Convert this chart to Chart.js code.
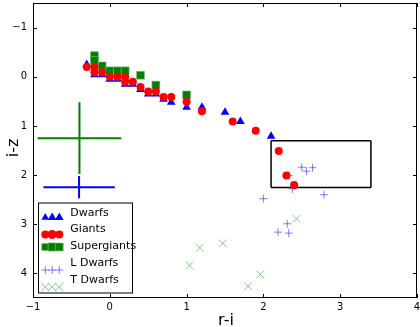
<!DOCTYPE html>
<html>
<head>
<meta charset="utf-8">
<script src="https://cdn.jsdelivr.net/npm/chart.js@4.4.0/dist/chart.umd.min.js"></script>
<style>
  html, body { margin: 0; padding: 0; background: #fff; }
</style>
</head>
<body>
<canvas id="chart" width="420" height="327"></canvas>
<script>
// colour-colour data (r-i vs i-z)
var dwarfX = [-0.3, -0.2, -0.1, 0, 0.1, 0.2, 0.3, 0.4, 0.5, 0.6, 0.7, 0.8, 1.0, 1.2, 1.5, 1.7, 2.1];
var dwarfY = [-0.25, -0.04, -0.04, 0.05, 0.05, 0.15, 0.15, 0.26, 0.35, 0.35, 0.46, 0.52, 0.62, 0.62, 0.72, 0.91, 1.21];

var giantX = [-0.3, -0.2, -0.2, -0.1, 0, 0.1, 0.2, 0.2, 0.3, 0.4, 0.5, 0.6, 0.7, 0.8, 1.0, 1.2, 1.6, 1.9, 2.2, 2.3, 2.4];
var giantY = [-0.2, -0.2, -0.09, -0.09, 0, 0, 0, 0.1, 0.1, 0.21, 0.3, 0.3, 0.41, 0.41, 0.51, 0.7, 0.91, 1.1, 1.51, 2.01, 2.2];

var superX = [-0.2, -0.2, -0.1, 0, 0.1, 0.2, 0.4, 0.6, 1.0];
var superY = [-0.43, -0.33, -0.22, -0.12, -0.12, -0.12, -0.03, 0.17, 0.37];

var lDwarfX = [2.5, 2.56, 2.64, 2.33, 2.38, 2.0, 2.79, 2.31, 2.19, 2.33];
var lDwarfY = [1.84, 1.92, 1.85, 2.01, 2.28, 2.48, 2.40, 2.99, 3.16, 3.18];

var tDwarfX = [2.43, 1.47, 1.96, 1.80, 1.17, 1.04];
var tDwarfY = [2.89, 3.39, 4.02, 4.26, 3.48, 3.84];

// typical error bars (green, blue)
var errX = [-0.395, -0.40];
var errY = [1.25, 2.245];
var errDx = [0.545, 0.465];
var errDy = [0.73, 0.225];

// selection box
var boxX = [2.1, 3.4];
var boxY = [1.3, 2.25];

var xTicks = [-1, 0, 1, 2, 3, 4];
var yTicks = [-1, 0, 1, 2, 3, 4];

function pts(xs, ys) {
    return xs.map(function(x, i) { return {x: x, y: ys[i]}; });
}

function seg(x1, y1, x2, y2, color, width) {
    return {
        data: [{x: x1, y: y1}, {x: x2, y: y2}],
        showLine: true,
        borderColor: color,
        borderWidth: width,
        pointRadius: 0,
        order: 10
    };
}

var datasets = [
    {label: 'Giants', data: pts(giantX, giantY), pointStyle: 'circle', pointRadius: 4,
     backgroundColor: '#ff0000', borderColor: '#ff0000', borderWidth: 0, order: 1},
    {label: 'Supergiants', data: pts(superX, superY), pointStyle: 'rect', pointRadius: 5.6,
     backgroundColor: '#008000', borderColor: '#7fbf7f', borderWidth: 0.6, order: 2},
    {label: 'Dwarfs', data: pts(dwarfX, dwarfY), pointStyle: 'triangle', pointRadius: 5,
     backgroundColor: '#0000ff', borderColor: '#0000ff', borderWidth: 0, order: 3},
    {label: 'L Dwarfs', data: pts(lDwarfX, lDwarfY), pointStyle: 'cross', pointRadius: 4,
     backgroundColor: 'rgba(0,0,255,0.5)', borderColor: 'rgba(0,0,255,0.5)', borderWidth: 1, order: 4},
    {label: 'T Dwarfs', data: pts(tDwarfX, tDwarfY), pointStyle: 'crossRot', pointRadius: 5.5,
     backgroundColor: 'rgba(0,128,0,0.45)', borderColor: 'rgba(0,128,0,0.45)', borderWidth: 1, order: 5}
];

// error crosses
var errColors = ['#008000', '#0000ff'];
for (var i = 0; i < errX.length; i++) {
    datasets.push(seg(errX[i] - errDx[i], errY[i], errX[i] + errDx[i], errY[i], errColors[i], 2));
    datasets.push(seg(errX[i], errY[i] - errDy[i], errX[i], errY[i] + errDy[i], errColors[i], 2));
}
// box
datasets.push(seg(boxX[0], boxY[0], boxX[1], boxY[0], '#000', 1.5));
datasets.push(seg(boxX[1], boxY[0], boxX[1], boxY[1], '#000', 1.5));
datasets.push(seg(boxX[1], boxY[1], boxX[0], boxY[1], '#000', 1.5));
datasets.push(seg(boxX[0], boxY[1], boxX[0], boxY[0], '#000', 1.5));

function fmt(v) {
    return v < 0 ? '\u2212' + Math.abs(v) : '' + v;
}

// frame, inward ticks, axis titles and legend
var decorPlugin = {
    id: 'decor',
    afterDraw: function(chart) {
        var ctx = chart.ctx, a = chart.chartArea;
        var xs = chart.scales.x, ys = chart.scales.y;
        ctx.save();
        ctx.strokeStyle = '#000';
        ctx.lineWidth = 1;
        ctx.strokeRect(a.left + 0.5, a.top + 0.5, a.right - a.left - 1, a.bottom - a.top - 1);

        ctx.beginPath();
        xTicks.forEach(function(v) {
            var px = Math.round(xs.getPixelForValue(v)) + 0.5;
            ctx.moveTo(px, a.bottom); ctx.lineTo(px, a.bottom - 4);
            ctx.moveTo(px, a.top); ctx.lineTo(px, a.top + 4);
        });
        yTicks.forEach(function(v) {
            var py = Math.round(ys.getPixelForValue(v)) + 0.5;
            ctx.moveTo(a.left, py); ctx.lineTo(a.left + 4, py);
            ctx.moveTo(a.right, py); ctx.lineTo(a.right - 4, py);
        });
        ctx.stroke();

        // axis titles
        ctx.fillStyle = '#000';
        ctx.font = '16px "DejaVu Sans"';
        ctx.textAlign = 'center';
        ctx.textBaseline = 'alphabetic';
        ctx.fillText('r-i', (a.left + a.right) / 2 + 1, 325);
        ctx.save();
        ctx.translate(18, 148);
        ctx.rotate(-Math.PI / 2);
        ctx.fillText('i-z', 0, 0);
        ctx.restore();

        // legend
        var lx = 38.5, ly = 203, lw = 94, lh = 90;
        ctx.fillStyle = '#fff';
        ctx.fillRect(lx, ly, lw, lh);
        ctx.strokeStyle = '#000';
        ctx.lineWidth = 1;
        ctx.strokeRect(lx, ly, lw, lh);

        var entries = [
            {text: 'Dwarfs', ty: 213.5, my: 217.5, style: 'triangle', sizes: [4.5, 5, 5], fill: '#0000ff', stroke: '#0000ff', bw: 0},
            {text: 'Giants', ty: 229.5, my: 234.5, style: 'circle', sizes: [4, 4.5, 4], fill: '#ff0000', stroke: '#ff0000', bw: 0},
            {text: 'Supergiants', ty: 246, my: 247, style: 'rect', sizes: [5, 5.8, 5.6], fill: '#008000', stroke: '#7fbf7f', bw: 0.6},
            {text: 'L Dwarfs', ty: 263.5, my: 270, style: 'cross', sizes: [4, 4, 4], fill: 'rgba(0,0,255,0.5)', stroke: 'rgba(0,0,255,0.5)', bw: 1},
            {text: 'T Dwarfs', ty: 280, my: 287, style: 'crossRot', sizes: [5.5, 5.5, 5.5], fill: 'rgba(0,128,0,0.45)', stroke: 'rgba(0,128,0,0.45)', bw: 1}
        ];
        var mx = [45.3, 52.2, 59.3];
        entries.forEach(function(e) {
            ctx.fillStyle = e.fill;
            ctx.strokeStyle = e.stroke;
            ctx.lineWidth = e.bw;
            for (var k = 0; k < 3; k++) {
                Chart.helpers.drawPoint(ctx, {pointStyle: e.style, radius: e.sizes[k], rotation: 0, borderWidth: e.bw}, mx[k], e.my);
            }
            ctx.fillStyle = '#000';
            ctx.font = '11px "DejaVu Sans"';
            ctx.textAlign = 'left';
            ctx.textBaseline = 'middle';
            ctx.fillText(e.text, 70.3, e.ty);
        });
        ctx.restore();
    }
};

new Chart(document.getElementById('chart'), {
    type: 'scatter',
    data: {datasets: datasets},
    options: {
        responsive: false,
        animation: false,
        devicePixelRatio: 1,
        layout: {autoPadding: false, padding: {top: 3, right: 3, left: 0, bottom: 0}},
        plugins: {legend: {display: false}, tooltip: {enabled: false}},
        scales: {
            x: {
                type: 'linear', min: -1, max: 4,
                grid: {display: false, drawTicks: false},
                border: {display: false},
                afterBuildTicks: function(s) { s.ticks = xTicks.map(function(v) { return {value: v}; }); },
                afterFit: function(s) { s.height = 29; s.paddingLeft = 0; s.paddingRight = 0; },
                ticks: {padding: 3, color: '#000', font: {family: 'DejaVu Sans', size: 10},
                        maxRotation: 0, callback: function(v) { return fmt(v); }}
            },
            y: {
                type: 'linear', min: -1.5, max: 4.5, reverse: true,
                grid: {display: false, drawTicks: false},
                border: {display: false},
                afterBuildTicks: function(s) { s.ticks = yTicks.map(function(v) { return {value: v}; }); },
                afterFit: function(s) { s.width = 33; s.paddingTop = 0; s.paddingBottom = 0; },
                ticks: {padding: 6, color: '#000', font: {family: 'DejaVu Sans', size: 10},
                        callback: function(v) { return fmt(v); }}
            }
        }
    },
    plugins: [decorPlugin]
});
</script>
</body>
</html>
